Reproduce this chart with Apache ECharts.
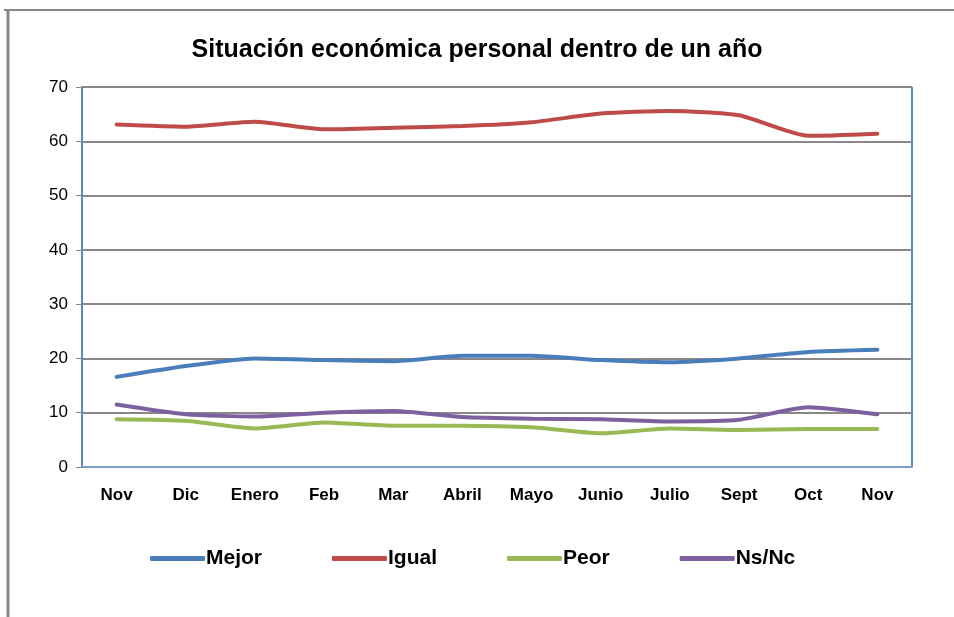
<!DOCTYPE html>
<html>
<head>
<meta charset="utf-8">
<script src="https://cdn.jsdelivr.net/npm/echarts@6/dist/echarts.min.js"></script>
<style>
  html, body { margin: 0; padding: 0; background: #fff; }
  #chart { width: 954px; height: 617px; }
</style>
</head>
<body>
<div id="chart"></div>
<script>
var months = ['Nov', 'Dic', 'Enero', 'Feb', 'Mar', 'Abril', 'Mayo', 'Junio', 'Julio', 'Sept', 'Oct', 'Nov'];
var mejor = [16.6, 18.6, 20.0, 19.7, 19.5, 20.5, 20.5, 19.7, 19.3, 20.0, 21.2, 21.6];
var igual = [63.1, 62.7, 63.6, 62.2, 62.5, 62.8, 63.5, 65.1, 65.6, 64.8, 61.0, 61.4];
var peor = [8.8, 8.5, 7.1, 8.2, 7.6, 7.6, 7.3, 6.2, 7.1, 6.8, 7.0, 7.0];
var nsnc = [11.5, 9.7, 9.3, 10.0, 10.3, 9.2, 8.9, 8.8, 8.4, 8.7, 11.0, 9.7];

var font = '"Liberation Sans", sans-serif';
var chart = echarts.init(document.getElementById('chart'));

function line(name, data, color) {
    return {
        name: name,
        type: 'line',
        data: data,
        symbol: 'none',
        smooth: 0.2,
        lineStyle: { width: 4, color: color, cap: 'round' },
        itemStyle: { color: color }
    };
}

var option = {
    animation: false,
    textStyle: { fontFamily: font },
    title: {
        text: 'Situación económica personal dentro de un año',
        left: 'center',
        top: 33,
        textStyle: { fontSize: 25, fontWeight: 'bold', color: '#000', fontFamily: font }
    },
    graphic: [
        { type: 'line', shape: { x1: 4, y1: 10, x2: 954, y2: 10 }, style: { stroke: '#888', lineWidth: 2 } },
        { type: 'line', shape: { x1: 8, y1: 10, x2: 8, y2: 617 }, style: { stroke: '#888', lineWidth: 3 } },
        { type: 'line', shape: { x1: 82, y1: 87, x2: 912, y2: 87 }, style: { stroke: '#5B87C5', lineWidth: 2 } },
        { type: 'line', shape: { x1: 912, y1: 87, x2: 912, y2: 467 }, style: { stroke: '#5B87C5', lineWidth: 2 } }
    ],
    legend: {
        data: ['Mejor', 'Igual', 'Peor', 'Ns/Nc'],
        left: 145,
        top: 543,
        icon: 'roundRect',
        itemWidth: 55,
        itemHeight: 5,
        itemGap: 70,
        textStyle: { fontSize: 21, fontWeight: 'bold', color: '#000', fontFamily: font, padding: [0, 0, 0, -4] }
    },
    grid: { left: 82, right: 42, top: 87, bottom: 150 },
    xAxis: {
        type: 'category',
        data: months,
        axisLine: { lineStyle: { color: '#7A9CCB', width: 2 } },
        axisTick: { length: 6, lineStyle: { color: '#888' } },
        axisLabel: { fontSize: 17, fontWeight: 'bold', color: '#000', margin: 20, interval: 0 }
    },
    yAxis: {
        type: 'value',
        min: 0,
        max: 70,
        interval: 10,
        axisLine: { show: true, lineStyle: { color: '#5B87C5', width: 2 } },
        axisTick: { show: true, length: 6, lineStyle: { color: '#888' } },
        axisLabel: { fontSize: 17, color: '#000', margin: 14 },
        splitLine: { lineStyle: { color: '#888', width: 2 } }
    },
    series: [
        line('Mejor', mejor, '#4A7EBB'),
        line('Igual', igual, '#BE4B48'),
        line('Peor', peor, '#98B954'),
        line('Ns/Nc', nsnc, '#7D60A0')
    ]
};

chart.setOption(option);
</script>
</body>
</html>
